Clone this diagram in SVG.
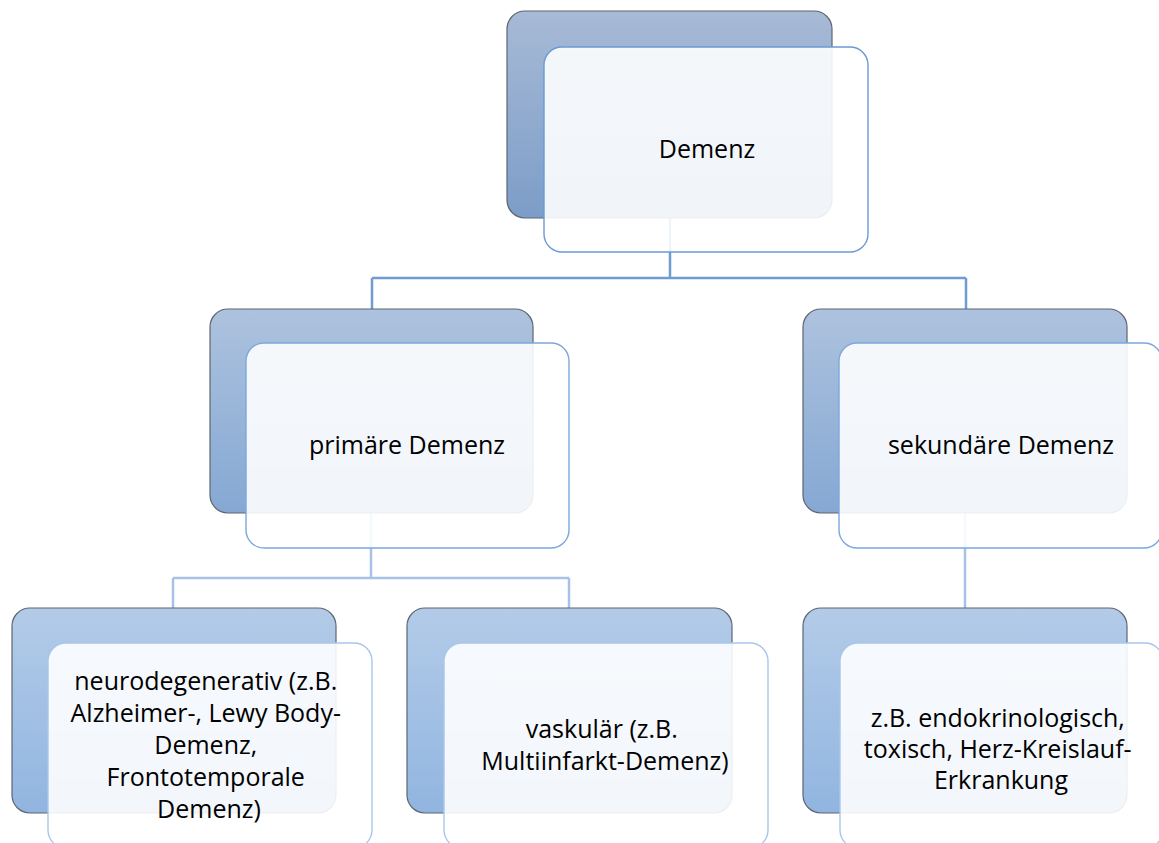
<svg xmlns="http://www.w3.org/2000/svg" width="1159" height="843" viewBox="0 0 1159 843">
  <defs>
    <linearGradient id="g1" x1="0" y1="0" x2="0" y2="1">
      <stop offset="0" stop-color="#a7bad6"/>
      <stop offset="1" stop-color="#7c9dc8"/>
    </linearGradient>
    <linearGradient id="g2" x1="0" y1="0" x2="0" y2="1">
      <stop offset="0" stop-color="#adc2de"/>
      <stop offset="1" stop-color="#85a8d3"/>
    </linearGradient>
    <linearGradient id="g3" x1="0" y1="0" x2="0" y2="1">
      <stop offset="0" stop-color="#b3cbe8"/>
      <stop offset="1" stop-color="#91b5e0"/>
    </linearGradient>
    <style>
      .back { stroke: #5d6670; stroke-width: 1.2; }
      .front { fill: #ffffff; fill-opacity: 0.89; stroke-width: 1.4; }
      .f1 { stroke: #6b9ad3; }
      .f2 { stroke: #7ca7dc; }
      .f3 { stroke: #a9c6ea; }
      .lbl { font-family: "Open Sans", "Liberation Sans", sans-serif; font-size: 25px; fill: #000; text-anchor: middle; }
      .c1 { fill: none; stroke: #6f9cd2; stroke-width: 2.5; }
      .c2 { fill: none; stroke: #a6c2e6; stroke-width: 2.5; }
    </style>
  </defs>
  <rect width="1159" height="843" fill="#ffffff"/>

  <g id="connectors">
    <path class="c1" d="M670,218 V278 M372,278 H966 M372,278 V309 M966,278 V309"/>
    <path class="c2" d="M371,513 V578 M173,578 H569 M173,578 V608 M569,578 V608"/>
    <path class="c2" d="M965,513 V608"/>
  </g>

  <g id="node-demenz">
    <rect class="back" x="507" y="11" width="325" height="207" rx="18" fill="url(#g1)"/>
    <rect class="front f1" x="544" y="47" width="324" height="205" rx="18"/>
    <text class="lbl" x="707" y="158">Demenz</text>
  </g>

  <g id="node-primaer">
    <rect class="back" x="210" y="309" width="323" height="204" rx="18" fill="url(#g2)"/>
    <rect class="front f2" x="246" y="343" width="323" height="205" rx="18"/>
    <text class="lbl" x="407" y="454">primäre Demenz</text>
  </g>

  <g id="node-sekundaer">
    <rect class="back" x="803" y="309" width="324" height="204" rx="18" fill="url(#g2)"/>
    <rect class="front f2" x="839" y="343" width="323" height="205" rx="18"/>
    <text class="lbl" x="1001" y="454">sekundäre Demenz</text>
  </g>

  <g id="node-neuro">
    <rect class="back" x="12" y="608" width="324" height="205" rx="18" fill="url(#g3)"/>
    <rect class="front f3" x="48" y="643" width="324" height="205" rx="18"/>
    <text class="lbl" x="209" y="690">
      <tspan x="209" y="690">neurodegenerativ (z.B.</tspan>
      <tspan x="209" y="722">Alzheimer-, Lewy Body-</tspan>
      <tspan x="209" y="754">Demenz,</tspan>
      <tspan x="209" y="786">Frontotemporale</tspan>
      <tspan x="209" y="818">Demenz)</tspan>
    </text>
  </g>

  <g id="node-vaskulaer">
    <rect class="back" x="407" y="608" width="325" height="205" rx="18" fill="url(#g3)"/>
    <rect class="front f3" x="444" y="643" width="324" height="205" rx="18"/>
    <text class="lbl" x="605" y="738">
      <tspan x="605" y="738">vaskulär (z.B.</tspan>
      <tspan x="605" y="770">Multiinfarkt-Demenz)</tspan>
    </text>
  </g>

  <g id="node-endo">
    <rect class="back" x="803" y="608" width="324" height="205" rx="18" fill="url(#g3)"/>
    <rect class="front f3" x="840" y="643" width="323" height="205" rx="18"/>
    <text class="lbl" x="1001" y="727">
      <tspan x="1001" y="727">z.B. endokrinologisch,</tspan>
      <tspan x="1001" y="758">toxisch, Herz-Kreislauf-</tspan>
      <tspan x="1001" y="789">Erkrankung</tspan>
    </text>
  </g>
</svg>
